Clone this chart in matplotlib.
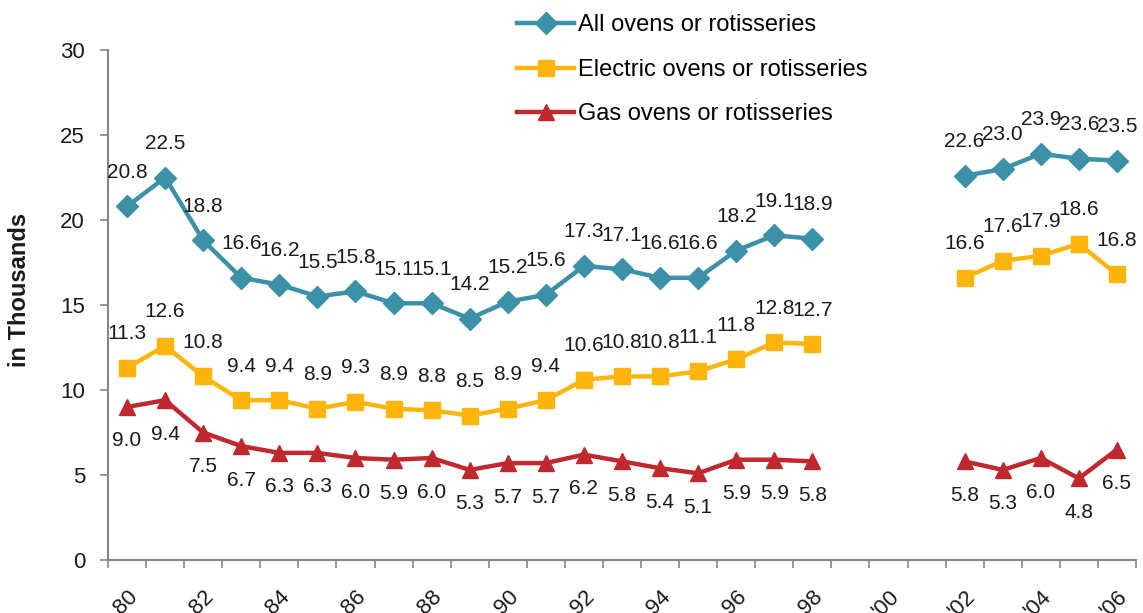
import numpy as np
import matplotlib
matplotlib.use("Agg")
import matplotlib.pyplot as plt
from matplotlib.ticker import FixedLocator

plt.rcParams['font.family'] = ['Liberation Sans', 'DejaVu Sans']

years = list(range(1980, 2007))
tick_labels = ["80", "82", "84", "86", "88", "90", "92", "94", "96", "98",
               "'00", "'02", "'04", "'06"]
nan = np.nan
all_ovens = [20.8, 22.5, 18.8, 16.6, 16.2, 15.5, 15.8, 15.1, 15.1, 14.2,
             15.2, 15.6, 17.3, 17.1, 16.6, 16.6, 18.2, 19.1, 18.9,
             nan, nan, nan, 22.6, 23.0, 23.9, 23.6, 23.5]
electric = [11.3, 12.6, 10.8, 9.4, 9.4, 8.9, 9.3, 8.9, 8.8, 8.5,
            8.9, 9.4, 10.6, 10.8, 10.8, 11.1, 11.8, 12.8, 12.7,
            nan, nan, nan, 16.6, 17.6, 17.9, 18.6, 16.8]
gas = [9.0, 9.4, 7.5, 6.7, 6.3, 6.3, 6.0, 5.9, 6.0, 5.3,
       5.7, 5.7, 6.2, 5.8, 5.4, 5.1, 5.9, 5.9, 5.8,
       nan, nan, nan, 5.8, 5.3, 6.0, 4.8, 6.5]

series = [
    ("All ovens or rotisseries", all_ovens, "#3A91A8", "D", 11, 1),
    ("Electric ovens or rotisseries", electric, "#FDB50C", "s", 11, 1),
    ("Gas ovens or rotisseries", gas, "#C0282D", "^", 12, -1),
]

W, H = 1143, 613
fig = plt.figure(figsize=(W / 100, H / 100), dpi=100)
ax = fig.add_axes([108 / W, 1 - 560 / H, 1028 / W, 510 / H])

x = np.arange(len(years))
handles = []
for name, vals, color, marker, ms, side in series:
    v = np.array(vals, dtype=float)
    h, = ax.plot(x, v, color=color, lw=3.2, marker=marker, ms=ms,
                 markerfacecolor=color, markeredgecolor=color, label=name,
                 clip_on=False, zorder=3)
    handles.append(h)
    for xi, yi in zip(x, v):
        if np.isnan(yi):
            continue
        ax.annotate(f"{yi:.1f}", (xi, yi), xytext=(0, 34 * side),
                    textcoords='offset pixels', ha='center', va='center',
                    fontsize=15, color='#1a1a1a', zorder=4)

ax.set_xlim(-0.5, len(years) - 0.5)
ax.set_ylim(0, 30)
ax.set_yticks([0, 5, 10, 15, 20, 25, 30])
ax.tick_params(axis='y', labelsize=16, length=5.5, width=1.2, color='#868686',
               pad=11, labelcolor='#1a1a1a')

ax.xaxis.set_major_locator(FixedLocator(x[::2]))
ax.set_xticklabels(tick_labels)
ax.xaxis.set_minor_locator(FixedLocator(np.arange(-0.5, len(years), 1.0)))
ax.tick_params(axis='x', which='major', length=0, labelsize=16, pad=19,
               labelcolor='#1a1a1a')
ax.tick_params(axis='x', which='minor', length=5.5, width=1.2, color='#868686')
for lab in ax.get_xticklabels():
    lab.set_rotation(45)
    lab.set_ha('right')
    lab.set_va('top')
    lab.set_rotation_mode('anchor')

for s in ['top', 'right']:
    ax.spines[s].set_visible(False)
for s in ['left', 'bottom']:
    ax.spines[s].set_color('#868686')
    ax.spines[s].set_linewidth(1.5)

fig.text(20 / W, 1 - 290 / H, "in Thousands", rotation=90, ha='center',
         va='center', fontsize=17, fontweight='bold', color='#1a1a1a')

fig.legend(handles=handles, loc='upper left',
           bbox_to_anchor=(508 / W, 1 - 5 / H), frameon=False,
           fontsize=17, handlelength=2.4, handletextpad=0.15,
           labelspacing=0.95, borderaxespad=0)

fig.savefig("out.png", dpi=100)
